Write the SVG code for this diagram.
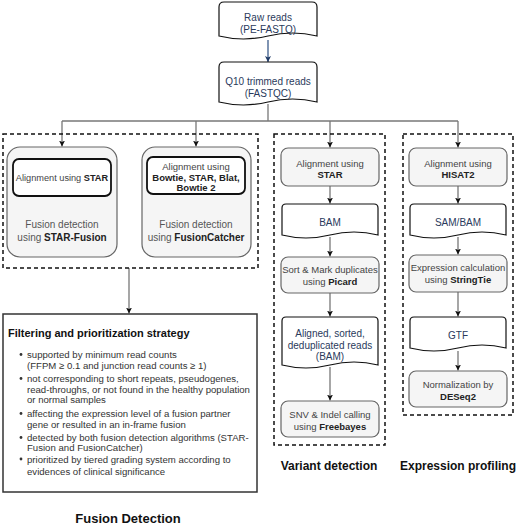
<svg xmlns="http://www.w3.org/2000/svg" width="520" height="525" viewBox="0 0 520 525">
<defs>
<marker id="ah" markerUnits="userSpaceOnUse" markerWidth="7" markerHeight="7" refX="6" refY="3" orient="auto">
<path d="M0,0 L6,3 L0,6 L1.5,3 Z" fill="#111"/>
</marker>
<marker id="ahb" markerUnits="userSpaceOnUse" markerWidth="7" markerHeight="7" refX="6" refY="3" orient="auto">
<path d="M0,0 L6,3 L0,6 L1.5,3 Z" fill="#1f3a66"/>
</marker>
</defs>
<style>
text{font-family:"Liberation Sans",Arial,sans-serif;}
.doc{fill:#fff;stroke:#111;stroke-width:1.2;}
.dt{font-size:10px;fill:#2a3a5c;text-anchor:middle;}
.proc{fill:#f5f5f5;stroke:#666;stroke-width:1.2;}
.pt{font-size:9.5px;fill:#444;text-anchor:middle;}
.b{font-weight:bold;fill:#222;}
.dash{fill:none;stroke:#111;stroke-width:1.5;stroke-dasharray:4 3;}
.inner{fill:#fff;stroke:#111;stroke-width:1.8;}
.ft{font-size:10px;fill:#555;text-anchor:middle;}
.con{fill:none;stroke:#777;stroke-width:1.3;}
.bl{font-size:9.6px;fill:#333;}
.sec{font-size:12px;font-weight:bold;fill:#111;text-anchor:middle;}
</style>

<g id="connectors">
<line class="con" x1="268" y1="40" x2="268" y2="62" style="stroke:#3b5b8a" marker-end="url(#ahb)"/>
<polyline class="con" points="268,104 268,121"/>
<line class="con" x1="62" y1="121" x2="458" y2="121"/>
<line class="con" x1="62" y1="121" x2="62" y2="146.5" marker-end="url(#ah)"/>
<line class="con" x1="196" y1="121" x2="196" y2="146.5" marker-end="url(#ah)"/>
<line class="con" x1="330" y1="121" x2="330" y2="147.5" marker-end="url(#ah)"/>
<line class="con" x1="458" y1="121" x2="458" y2="147.5" marker-end="url(#ah)"/>
<line class="con" x1="129" y1="268" x2="129" y2="313.5" marker-end="url(#ah)"/>
<line class="con" x1="330" y1="186" x2="330" y2="203.5" marker-end="url(#ah)"/>
<line class="con" x1="330" y1="237" x2="330" y2="256.5" marker-end="url(#ah)"/>
<line class="con" x1="330" y1="293" x2="330" y2="316.5" marker-end="url(#ah)"/>
<line class="con" x1="330" y1="367" x2="330" y2="400.5" marker-end="url(#ah)"/>
<line class="con" x1="458" y1="186" x2="458" y2="203.5" marker-end="url(#ah)"/>
<line class="con" x1="458" y1="237" x2="458" y2="254.5" marker-end="url(#ah)"/>
<line class="con" x1="458" y1="292" x2="458" y2="316.5" marker-end="url(#ah)"/>
<line class="con" x1="458" y1="351" x2="458" y2="370.5" marker-end="url(#ah)"/>
</g>

<g id="raw-reads">
<path class="doc" d="M219,7 Q219,2 224,2 H312 Q317,2 317,7 V36 Q292.5,30 268,36 Q243.5,42 219,36 Z"/>
<text class="dt" x="268" y="21">Raw reads</text>
<text class="dt" x="268" y="33">(PE-FASTQ)</text>
</g>

<g id="q10">
<path class="doc" d="M219,67 Q219,62 224,62 H312 Q317,62 317,67 V102 Q292.5,96 268,102 Q243.5,108 219,102 Z"/>
<text class="dt" x="268" y="85">Q10 trimmed reads</text>
<text class="dt" x="268" y="97">(FASTQC)</text>
</g>

<g id="fusion-group">
<rect class="dash" x="3" y="134" width="255" height="134"/>
</g>

<g id="star-fusion">
<rect class="proc" x="7" y="147" width="110" height="110" rx="13"/>
<rect class="inner" x="13" y="159" width="98" height="37" rx="6"/>
<text class="pt" x="62" y="181" style="font-size:9.2px">Alignment using <tspan class="b">STAR</tspan></text>
<text class="ft" x="62" y="228">Fusion detection</text>
<text class="ft" x="62" y="241">using <tspan class="b">STAR-Fusion</tspan></text>
</g>

<g id="fusioncatcher">
<rect class="proc" x="142" y="147" width="109" height="110" rx="13"/>
<rect class="inner" x="147" y="157" width="98" height="37" rx="6"/>
<text class="pt" x="196" y="169.5">Alignment using</text>
<text class="pt b" x="196" y="180.5">Bowtie, STAR, Blat,</text>
<text class="pt b" x="196" y="191">Bowtie 2</text>
<text class="ft" x="196" y="228">Fusion detection</text>
<text class="ft" x="196" y="241">using <tspan class="b">FusionCatcher</tspan></text>
</g>

<g id="filtering">
<rect x="3" y="314" width="254" height="178" fill="#fff" stroke="#333" stroke-width="1.5"/>
<text x="8" y="337" style="font-size:11px;font-weight:bold;fill:#111">Filtering and prioritization strategy</text>
<g fill="#333">
<circle cx="21" cy="354.5" r="1.4"/>
<circle cx="21" cy="378.5" r="1.4"/>
<circle cx="21" cy="413.5" r="1.4"/>
<circle cx="21" cy="437.5" r="1.4"/>
<circle cx="21" cy="459" r="1.4"/>
</g>
<text class="bl" x="27" y="357.5">supported by minimum read counts</text>
<text class="bl" x="27" y="368.5">(FFPM ≥ 0.1 and junction read counts ≥ 1)</text>
<text class="bl" x="27" y="381.5">not corresponding to short repeats, pseudogenes,</text>
<text class="bl" x="27" y="392.5">read-throughs, or not found in the healthy population</text>
<text class="bl" x="27" y="402.5">or normal samples</text>
<text class="bl" x="27" y="416.5">affecting the expression level of a fusion partner</text>
<text class="bl" x="27" y="427.5">gene or resulted in an in-frame fusion</text>
<text class="bl" x="27" y="440.5">detected by both fusion detection algorithms  (STAR-</text>
<text class="bl" x="27" y="450.5">Fusion and FusionCatcher)</text>
<text class="bl" x="27" y="462.5">prioritized by tiered grading system according to</text>
<text class="bl" x="27" y="474.5">evidences of clinical significance</text>
</g>

<g id="variant-group">
<rect class="dash" x="274" y="134" width="111" height="311"/>
</g>

<g id="align-star">
<rect class="proc" x="281" y="148" width="98" height="38" rx="7"/>
<text class="pt" x="330" y="166.5">Alignment using</text>
<text class="pt b" x="330" y="177.5">STAR</text>
</g>

<g id="bam">
<path class="doc" d="M282,208 Q282,204 286,204 H374 Q378,204 378,208 V235 Q354,229 330,235 Q306,241 282,235 Z"/>
<text class="dt" x="330" y="225.5">BAM</text>
</g>

<g id="picard">
<rect class="proc" x="281" y="257" width="98" height="36" rx="7"/>
<text class="pt" x="330" y="272.5">Sort &amp; Mark duplicates</text>
<text class="pt" x="330" y="284.5">using <tspan class="b">Picard</tspan></text>
</g>

<g id="aligned-bam">
<path class="doc" d="M282,321 Q282,317 286,317 H374 Q378,317 378,321 V365 Q354,359 330,365 Q306,371 282,365 Z"/>
<text class="dt" x="330" y="336.5">Aligned, sorted,</text>
<text class="dt" x="330" y="348.5">deduplicated reads</text>
<text class="dt" x="330" y="360">(BAM)</text>
</g>

<g id="freebayes">
<rect class="proc" x="281" y="401" width="98" height="36" rx="7"/>
<text class="pt" x="330" y="417.5">SNV &amp; Indel calling</text>
<text class="pt" x="330" y="429.5">using <tspan class="b">Freebayes</tspan></text>
</g>

<g id="expression-group">
<rect class="dash" x="403" y="134" width="110" height="281"/>
</g>

<g id="align-hisat2">
<rect class="proc" x="409" y="148" width="98" height="38" rx="7"/>
<text class="pt" x="458" y="166.5">Alignment using</text>
<text class="pt b" x="458" y="177.5">HISAT2</text>
</g>

<g id="sam-bam">
<path class="doc" d="M410,208 Q410,204 414,204 H502 Q506,204 506,208 V235 Q482,229 458,235 Q434,241 410,235 Z"/>
<text class="dt" x="458" y="225.5">SAM/BAM</text>
</g>

<g id="stringtie">
<rect class="proc" x="409" y="255" width="98" height="37" rx="7"/>
<text class="pt" x="458" y="271">Expression calculation</text>
<text class="pt" x="458" y="282.5">using <tspan class="b">StringTie</tspan></text>
</g>

<g id="gtf">
<path class="doc" d="M410,321 Q410,317 414,317 H502 Q506,317 506,321 V348 Q482,342 458,348 Q434,354 410,348 Z"/>
<text class="dt" x="458" y="338.5">GTF</text>
</g>

<g id="deseq2">
<rect class="proc" x="409" y="371" width="98" height="36" rx="7"/>
<text class="pt" x="458" y="387.5">Normalization by</text>
<text class="pt b" x="458" y="399.5">DESeq2</text>
</g>

<g id="section-labels">
<text class="sec" x="329" y="470">Variant detection</text>
<text class="sec" x="458" y="470">Expression profiling</text>
<text class="sec" x="128" y="523" style="font-size:13px">Fusion Detection</text>
</g>
</svg>
